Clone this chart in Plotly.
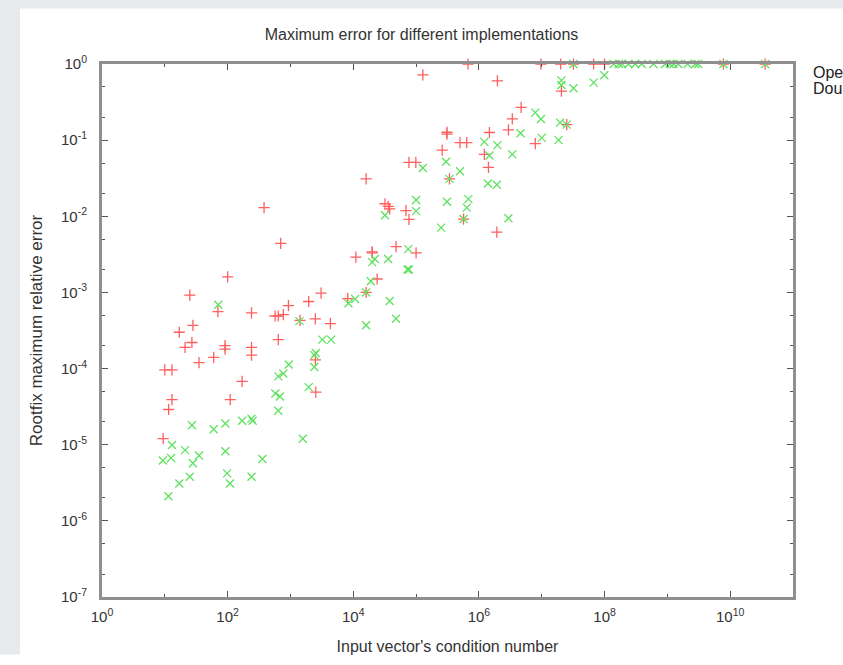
import plotly.graph_objects as go

# ---------------- data ----------------
red_x = [700, 100, 25, 70, 240, 17, 28, 27, 21, 91, 91, 240, 240, 60, 35, 10, 13, 170, 13, 110,
         11.5, 9.4, 640, 570, 640, 770, 930, 1950, 3070, 1420, 2490, 4320, 2490, 2530, 8170, 380,
         2.4e4, 1.6e4, 1.28e5, 1.97e6, 6.7e5, 9.7e6, 2.0e7, 6.7e7, 3.2e7, 1.0e8, 7.8e9, 3.6e10,
         2.06e7, 4.7e6, 3.4e6, 2.5e7, 1.47e6, 2.95e6, 3.1e5, 3.1e5, 5.0e5, 6.4e5, 7.9e6, 2.6e5,
         1.22e6, 7.7e4, 9.9e4, 1.42e6, 3.4e5, 1.6e4, 3.2e4, 3.6e4, 3.8e4, 6.9e4, 7.7e4, 5.7e5,
         1.93e6, 4.8e4, 2.0e4, 2.0e4, 1.0e5, 1.1e4]
red_y = [4.4e-3, 1.6e-3, 9.2e-4, 5.6e-4, 5.4e-4, 3.0e-4, 3.7e-4, 2.2e-4, 1.9e-4, 2.0e-4, 1.8e-4, 1.9e-4,
         1.5e-4, 1.4e-4, 1.2e-4, 9.6e-5, 9.6e-5, 6.8e-5, 3.9e-5, 3.9e-5,
         2.9e-5, 1.2e-5, 2.4e-4, 4.9e-4, 4.9e-4, 5.1e-4, 6.7e-4, 7.6e-4, 9.8e-4, 4.3e-4, 4.5e-4, 3.9e-4,
         1.3e-4, 4.9e-5, 8.3e-4, 1.3e-2,
         1.5e-3, 1.0e-3, 0.72, 0.60, 1, 1, 1, 1, 1, 1, 1, 1,
         0.44, 0.27, 0.19, 0.16, 0.126, 0.136, 0.127, 0.12, 0.093, 0.093, 0.090, 0.074,
         0.065, 0.051, 0.051, 0.044, 0.031, 0.031, 0.0146, 0.0135, 0.0125, 0.0119, 0.0091, 0.0092,
         0.0062, 0.0040, 0.0034, 0.0033, 0.0033, 0.0029]

green_x = [71, 1390, 3220, 4430, 2530, 2400, 2400, 940, 770, 640, 1950, 575, 680, 640, 27, 60, 92,
           170, 240, 250, 1570, 13, 21, 92, 9.3, 12.6, 35, 28, 357, 25, 17, 98, 109, 240, 11.4,
           2.2e4, 2.0e4, 3.6e4, 7.5e4, 7.3e4, 7.7e4, 1.9e4, 1.6e4, 1.07e4, 8360, 3.8e4, 4.8e4, 1.6e4,
           2.06e7, 2.06e7, 3.2e7, 6.7e7, 9.9e7, 7.9e6, 9.7e6, 1.96e7, 2.5e7, 4.6e6, 1.0e7, 1.85e7,
           1.22e6, 1.97e6, 3.4e6, 1.47e6, 3.0e5, 1.28e5, 5.0e5, 3.4e5, 1.39e6, 1.93e6, 1.0e5, 1.0e5,
           3.1e5, 6.8e5, 6.4e5, 3.2e4, 5.7e5, 2.5e5, 2.95e6,
           3.2e7, 1.39e8, 1.7e8, 1.9e8, 2.4e8, 3.07e8, 3.9e8, 6.0e8, 9.2e8, 1.1e9, 1.25e9, 1.49e9,
           2.1e9, 2.8e9, 3.1e9, 7.8e9, 3.6e10]
green_y = [6.9e-4, 4.2e-4, 2.4e-4, 2.4e-4, 1.6e-4, 1.5e-4, 1.05e-4, 1.13e-4, 8.6e-5, 7.9e-5, 5.7e-5,
           4.7e-5, 4.3e-5, 2.8e-5, 1.8e-5, 1.6e-5, 1.9e-5, 2.06e-5, 2.2e-5, 2.06e-5, 1.2e-5, 9.9e-6,
           8.5e-6, 8.2e-6, 6.2e-6, 6.7e-6, 7.2e-6, 5.7e-6, 6.5e-6, 3.8e-6, 3.1e-6, 4.2e-6, 3.1e-6,
           3.8e-6, 2.1e-6,
           2.75e-3, 2.5e-3, 2.75e-3, 3.7e-3, 2.0e-3, 2.0e-3, 1.4e-3, 1.0e-3, 8.2e-4, 7.2e-4, 7.7e-4,
           4.5e-4, 3.7e-4,
           0.61, 0.53, 0.48, 0.57, 0.71, 0.23, 0.19, 0.17, 0.16, 0.123, 0.107, 0.10,
           0.095, 0.086, 0.065, 0.063, 0.052, 0.043, 0.039, 0.031, 0.027, 0.026, 0.0164, 0.0117,
           0.0155, 0.0168, 0.013, 0.0103, 0.0092, 0.0071, 0.0094,
           1, 1, 1, 1, 1, 1, 1, 1, 1, 1, 1, 1, 1, 1, 1, 1, 1]

series_names = ["OpenCL", "Double"]

x_tick_vals = [1, 1e2, 1e4, 1e6, 1e8, 1e10]
x_tick_text = ["10<sup>0</sup>", "10<sup>2</sup>", "10<sup>4</sup>", "10<sup>6</sup>",
               "10<sup>8</sup>", "10<sup>10</sup>"]
y_tick_vals = [1e-7, 1e-6, 1e-5, 1e-4, 1e-3, 1e-2, 1e-1, 1]
y_tick_text = ["10<sup>-7</sup>", "10<sup>-6</sup>", "10<sup>-5</sup>", "10<sup>-4</sup>",
               "10<sup>-3</sup>", "10<sup>-2</sup>", "10<sup>-1</sup>", "10<sup>0</sup>"]

# ---------------- figure ----------------
W, H = 843, 665
ML, MR, MT, MB = 102, 50, 64, 54
PW, PH = W - ML - MR, H - MT - MB

FONT = "Liberation Sans, Arial, Helvetica, sans-serif"
RED = "rgb(255,95,95)"
GREEN = "rgb(95,225,95)"
TXT = "#333333"
PAGE = "#e8e9ec"

fig = go.Figure()
fig.add_trace(go.Scatter(
    x=red_x, y=red_y, mode="markers", name=series_names[0], cliponaxis=False,
    marker=dict(symbol="cross-thin", size=8, color=RED, line=dict(color=RED, width=1.3)),
))
fig.add_trace(go.Scatter(
    x=green_x, y=green_y, mode="markers", name=series_names[1], cliponaxis=False,
    marker=dict(symbol="x-thin", size=8, color=GREEN, line=dict(color=GREEN, width=1.3)),
))

axis_common = dict(
    type="log", showgrid=False, zeroline=False, showline=True, mirror="ticks",
    linecolor="#8f8f8f", linewidth=3, ticks="inside", tickcolor="#555",
    tickfont=dict(family=FONT, size=15, color=TXT),
)

fig.update_xaxes(
    **axis_common, range=[0, 11], tickvals=x_tick_vals, ticktext=x_tick_text, ticklen=6,
    ticklabelstandoff=4,
    minor=dict(ticks="inside", ticklen=3, tickvals=[10, 1e3, 1e5, 1e7, 1e9, 1e11], tickcolor="#555"),
    title=dict(text="Input vector's condition number",
               font=dict(family=FONT, size=16, color=TXT), standoff=17),
)
fig.update_yaxes(
    **axis_common, range=[-7, 0], tickvals=y_tick_vals, ticktext=y_tick_text, ticklen=6,
    ticklabelstandoff=9,
    minor=dict(ticks="inside", ticklen=3, dtick="D2", tickcolor="#555"),
    title=dict(text="Rootfix maximum relative error",
               font=dict(family=FONT, size=17, color=TXT), standoff=15),
)

# grey page strips around the white panel (left and top)
fig.add_shape(type="rect", xref="paper", yref="paper", layer="below",
              x0=-(ML + 5) / PW, x1=(20 - ML) / PW,
              y0=-(MB + 5) / PH, y1=1 + (MT + 5) / PH,
              fillcolor=PAGE, line=dict(width=0))
fig.add_shape(type="rect", xref="paper", yref="paper", layer="below",
              x0=-(ML + 5) / PW, x1=1 + (MR + 5) / PW,
              y0=1 + (MT - 7) / PH, y1=1 + (MT + 5) / PH,
              fillcolor=PAGE, line=dict(width=0))

# key (cut off by the page edge as in the reference)
for i, name in enumerate(series_names):
    fig.add_annotation(x=(811 - ML) / PW, y=1 - (9 + 16 * i) / PH, xref="paper", yref="paper",
                       text=name, showarrow=False, xanchor="left", yanchor="middle",
                       font=dict(family=FONT, size=16, color="#222"))

fig.update_layout(
    width=W, height=H,
    margin=dict(l=ML, r=MR, t=MT, b=MB, pad=0),
    paper_bgcolor="white", plot_bgcolor="white",
    showlegend=False,
    title=dict(text="Maximum error for different implementations", x=0.5, xanchor="center",
               y=1 - 34 / H, yanchor="middle",
               font=dict(family=FONT, size=16, color=TXT)),
)

fig.write_html("out.html", config={"displayModeBar": False},
               post_script="document.documentElement.style.overflow='hidden';"
                           "document.body.style.margin='0';document.body.style.overflow='hidden';")
